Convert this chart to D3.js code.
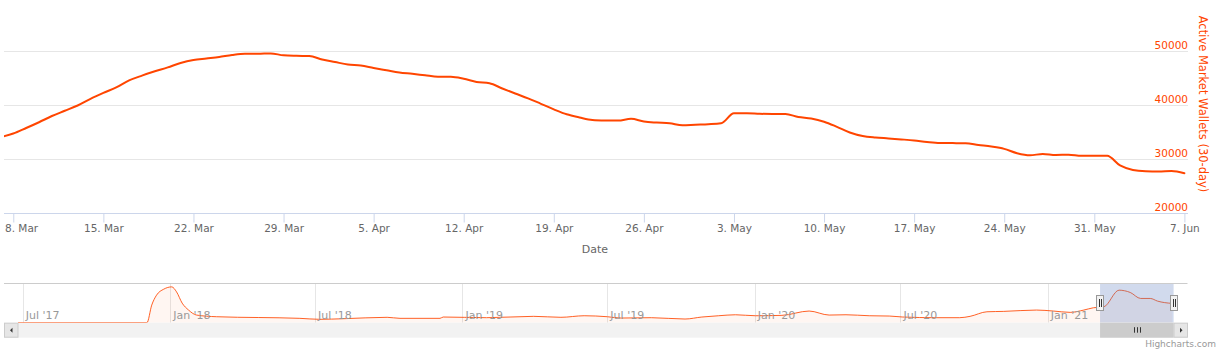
<!DOCTYPE html>
<html>
<head>
<meta charset="utf-8">
<script src="https://cdn.jsdelivr.net/npm/d3@7"></script>
<style>
  html, body { margin: 0; padding: 0; background: #fff; }
  svg { display: block; font-family: "DejaVu Sans", sans-serif; }
</style>
</head>
<body>
<svg id="chart" width="1223" height="357"></svg>
<script>
// ---------- DATA ----------
const seriesName = "Active Market Wallets (30-day)";
const xAxisTitle = "Date";
const firstDay = "2021-03-07";
// daily values, 7 Mar 2021 .. 7 Jun 2021
const walletValues = [
  34070, 34720, 35740, 36810, 37960, 38930, 39910, 41150, 42240, 43260,
  44560, 45450, 46240, 46960, 47780, 48330, 48610, 48890, 49260, 49480,
  49480, 49560, 49200, 49110, 49070, 48430, 47960, 47500, 47310, 46850,
  46430, 46020, 45780, 45500, 45240, 45240, 44870, 44260, 44020, 43060,
  42130, 41240, 40220, 39200, 38280, 37690, 37220, 37130, 37110, 37440,
  36940, 36740, 36610, 36240, 36350, 36440, 36610, 38460, 38460, 38370,
  38330, 38330, 37780, 37500, 36910, 35960, 34910, 34260, 33980, 33810,
  33630, 33430, 33150, 32960, 32940, 32910, 32590, 32300, 31870, 31070,
  30690, 30930, 30740, 30800, 30610, 30610, 30590, 28800, 27960, 27720,
  27670, 27780, 27350
];
const xTickDates = ["2021-03-08","2021-03-15","2021-03-22","2021-03-29","2021-04-05",
  "2021-04-12","2021-04-19","2021-04-26","2021-05-03","2021-05-10","2021-05-17",
  "2021-05-24","2021-05-31","2021-06-07"];
const xTickLabels = ["8. Mar","15. Mar","22. Mar","29. Mar","5. Apr","12. Apr","19. Apr",
  "26. Apr","3. May","10. May","17. May","24. May","31. May","7. Jun"];
const yTicks = [20000, 30000, 40000, 50000];

// visible window (zoomed range) and navigator range
const viewStart = "2021-03-07T06:40:00Z";
const viewEnd = "2021-06-07T03:00:00Z";
const navStart = "2017-06-25";
const navEnd = "2021-06-07";

// navigator series (full history, read from the overview strip)
const navDates = ["2017-06-25","2017-12-03","2017-12-09","2017-12-15","2017-12-24","2018-01-03",
  "2018-01-09","2018-01-16","2018-01-24","2018-02-03","2018-02-28","2018-06-12","2018-07-07",
  "2018-08-05","2018-09-29","2018-10-15","2018-12-04","2018-12-08","2019-01-31","2019-03-31",
  "2019-05-04","2019-06-02","2019-07-01","2019-07-18","2019-08-25","2019-10-06","2019-10-27",
  "2019-11-17","2019-12-08","2020-01-02","2020-02-04","2020-03-09","2020-04-03","2020-04-24",
  "2020-05-23","2020-06-17","2020-07-04","2020-08-15","2020-09-13","2020-09-26","2020-10-17",
  "2020-11-07","2020-12-18","2021-01-08","2021-01-29","2021-02-15","2021-02-27","2021-03-12",
  "2021-03-31","2021-04-14","2021-04-27","2021-05-09","2021-05-18","2021-06-05"];
const navValues = [0, 0, 35900, 56200, 68400, 73100,
  62900, 40000, 25800, 15600, 12200, 8900, 6900,
  8100, 11000, 8900, 8900, 11600, 10200, 13000,
  11000, 14200, 12200, 9500, 10200, 7500, 11600,
  14200, 16200, 14200, 15000, 23800, 15600, 16200,
  14200, 13600, 11600, 10200, 10200, 13000, 22300,
  23100, 25800, 23800, 21100, 25800, 30500, 32500,
  66400, 61700, 49500, 49500, 44100, 39400];
const navTickDates = ["2017-07-01","2018-01-01","2018-07-01","2019-01-01","2019-07-01",
  "2020-01-01","2020-07-01","2021-01-01"];
const navTickLabels = ["Jul '17","Jan '18","Jul '18","Jan '19","Jul '19","Jan '20","Jul '20","Jan '21"];
const creditText = "Highcharts.com";

// ---------- DRAW ----------
const svg = d3.select("#chart");
const color = "#ff4500";
const parse = s => new Date(s.length === 10 ? s + "T00:00:00Z" : s);

const dayStart = parse(firstDay);
const mainData = walletValues.map((v, i) => ({ d: d3.utcDay.offset(dayStart, i), v }));

const plot = { left: 4, right: 1186, top: 0, bottom: 213 };
const x = d3.scaleUtc().domain([parse(viewStart), parse(viewEnd)]).range([plot.left, plot.right]);
const y = d3.scaleLinear().domain([20000, 50000]).range([213, 51]);

// grid lines
svg.append("g").selectAll("line").data(yTicks.filter(t => t !== 20000)).join("line")
  .attr("x1", plot.left).attr("x2", plot.right + 2)
  .attr("y1", d => Math.round(y(d)) + 0.5).attr("y2", d => Math.round(y(d)) + 0.5)
  .attr("stroke", "#e6e6e6").attr("stroke-width", 1);

// x axis
const xAxis = d3.axisBottom(x)
  .tickValues(xTickDates.map(parse))
  .tickFormat((d, i) => xTickLabels[i])
  .tickSize(9).tickSizeOuter(0);
const gx = svg.append("g").attr("transform", `translate(0,${plot.bottom + 0.5})`).call(xAxis);
gx.select(".domain").attr("stroke", "#ccd6eb").attr("d", `M${plot.left},0H${plot.right + 2}`);
gx.selectAll(".tick line").attr("stroke", "#ccd6eb");
gx.selectAll(".tick text").attr("fill", "#666").attr("font-size", "10.5px")
  .attr("font-family", "DejaVu Sans").attr("y", 11).attr("dy", "0.71em");
// keep edge labels inside the chart (as the original does)
gx.selectAll(".tick").each(function () {
  const tick = d3.select(this);
  const t = tick.select("text");
  const bb = t.node().getBBox();
  const m = /translate\(([-\d.]+)/.exec(tick.attr("transform"));
  const tx = m ? +m[1] : 0;
  const left = tx + bb.x;
  if (left < plot.left + 1) t.attr("x", plot.left + 1 - left);
});

svg.append("text").attr("x", (plot.left + plot.right) / 2).attr("y", 253)
  .attr("text-anchor", "middle").attr("fill", "#666").attr("font-size", "11px").text(xAxisTitle);

// y axis labels (right, inside)
const yAxis = d3.axisRight(y).tickValues(yTicks).tickFormat(d3.format("d")).tickSize(0);
const gy = svg.append("g").attr("transform", `translate(${plot.right + 2},0)`).call(yAxis);
gy.select(".domain").remove();
gy.selectAll(".tick text").attr("fill", color).attr("font-size", "10.5px")
  .attr("font-family", "DejaVu Sans")
  .attr("text-anchor", "end").attr("x", 0).attr("dy", "-2.2px");

svg.append("text")
  .attr("transform", `translate(1199,104) rotate(90)`)
  .attr("text-anchor", "middle").attr("fill", color).attr("font-size", "11.5px")
  .text(seriesName);

// main line
svg.append("clipPath").attr("id", "clipMain").append("rect")
  .attr("x", plot.left).attr("y", 0).attr("width", plot.right - plot.left).attr("height", plot.bottom);
const line = d3.line().x(d => x(d.d)).y(d => y(d.v)).curve(d3.curveMonotoneX);
svg.append("path").datum(mainData).attr("clip-path", "url(#clipMain)")
  .attr("d", line).attr("fill", "none").attr("stroke", color).attr("stroke-width", 2)
  .attr("stroke-linejoin", "round").attr("stroke-linecap", "round");

// ---------- NAVIGATOR ----------
const nav = { left: 18, right: 1173.5, top: 283.5, bottom: 322.7, outerLeft: 4, outerRight: 1187.5 };
const nx = d3.scaleUtc().domain([parse(navStart), parse(navEnd)]).range([nav.left, nav.right]);
const ny = d3.scaleLinear().domain([0, 80000]).range([nav.bottom, nav.top]);
const navData = navDates.map((d, i) => ({ d: parse(d), v: navValues[i] }));

// nav grid
svg.append("g").selectAll("line").data(navTickDates.map(parse)).join("line")
  .attr("x1", d => Math.round(nx(d)) + 0.5).attr("x2", d => Math.round(nx(d)) + 0.5)
  .attr("y1", nav.top).attr("y2", nav.bottom).attr("stroke", "#e6e6e6");

// nav area + line
const navArea = d3.area().x(d => nx(d.d)).y0(nav.bottom).y1(d => ny(d.v)).curve(d3.curveMonotoneX);
const navLine = d3.line().x(d => nx(d.d)).y(d => ny(d.v)).curve(d3.curveMonotoneX);
svg.append("path").datum(navData).attr("d", navArea).attr("fill", color).attr("fill-opacity", 0.05);
svg.append("path").datum(navData).attr("d", navLine).attr("fill", "none")
  .attr("stroke", color).attr("stroke-width", 1).attr("stroke-opacity", 0.85);

// nav labels
svg.append("g").selectAll("text").data(navTickDates.map(parse)).join("text")
  .attr("x", d => nx(d) + 3).attr("y", 318.5)
  .attr("fill", "#999").attr("font-size", "11px").text((d, i) => navTickLabels[i]);

// mask
const mx0 = nx(parse(viewStart)), mx1 = nx(parse(viewEnd));
svg.append("rect").attr("x", mx0).attr("y", nav.top).attr("width", mx1 - mx0)
  .attr("height", nav.bottom - nav.top).attr("fill", "rgba(102,133,194,0.3)");

// outline
svg.append("path").attr("d", `M${nav.outerLeft},${nav.top}H${nav.outerRight}`)
  .attr("stroke", "#ccc").attr("stroke-width", 1).attr("fill", "none");

// scrollbar
const sb = { y: 322.7, h: 15 };
svg.append("rect").attr("x", nav.outerLeft).attr("y", sb.y).attr("width", nav.outerRight - nav.outerLeft)
  .attr("height", sb.h).attr("fill", "#f2f2f2");
svg.append("rect").attr("x", mx0).attr("y", sb.y).attr("width", mx1 - mx0).attr("height", sb.h)
  .attr("fill", "#cccccc");
// rifles
[-3, 0, 3].forEach(o => {
  svg.append("line").attr("x1", Math.round((mx0 + mx1) / 2) + o + 0.5).attr("x2", Math.round((mx0 + mx1) / 2) + o + 0.5)
    .attr("y1", sb.y + 4.5).attr("y2", sb.y + 10).attr("stroke", "#333").attr("stroke-width", 1);
});
// buttons
function button(x0, dir) {
  svg.append("rect").attr("x", x0 + 0.5).attr("y", sb.y + 0.5).attr("width", 13.5).attr("height", sb.h - 1)
    .attr("fill", "#e6e6e6").attr("stroke", "#ccc").attr("stroke-width", 1);
  const cx = x0 + 7.5, cy = sb.y + 7.5;
  const p = dir < 0 ? `M${cx - 1.5},${cy}L${cx + 1},${cy - 2.5}L${cx + 1},${cy + 2.5}Z`
                    : `M${cx + 1.5},${cy}L${cx - 1},${cy - 2.5}L${cx - 1},${cy + 2.5}Z`;
  svg.append("path").attr("d", p).attr("fill", "#333");
}
button(nav.outerLeft, -1);
button(nav.right, 1);

// handles
[mx0, mx1].forEach(hx => {
  const g = svg.append("g").attr("transform", `translate(${Math.round(hx)},0)`);
  g.append("rect").attr("x", -3.5).attr("y", 295.5).attr("width", 7).attr("height", 15)
    .attr("fill", "#f2f2f2").attr("stroke", "#999").attr("stroke-width", 1);
  [-1, 1].forEach(o => g.append("line").attr("x1", o + 0.5).attr("x2", o + 0.5)
    .attr("y1", 299).attr("y2", 307).attr("stroke", "#333").attr("stroke-width", 1));
});

// credit
svg.append("text").attr("x", 1216).attr("y", 347).attr("text-anchor", "end")
  .attr("fill", "#999").attr("font-size", "9px").text(creditText);
</script>
</body>
</html>
